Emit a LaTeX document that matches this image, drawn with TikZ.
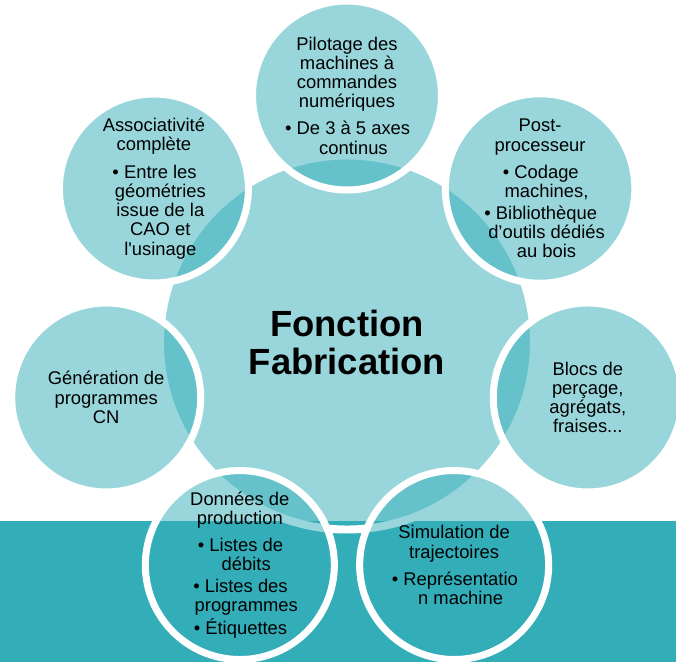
\documentclass[tikz,border=0pt]{standalone}
\usepackage{fontspec}
\setmainfont{Liberation Sans}
\definecolor{bandteal}{HTML}{33AEB9}
\newcommand{\puce}{\hspace*{0.7em}\llap{\textbullet\ }}
\newcommand{\suite}{\hspace*{0.7em}}
\tikzset{%
  % Specifications for style of the circles:
            hub/.style = {circle, draw=white, line width=6.8pt,
                            fill=bandteal, fill opacity=0.5, draw opacity=1,
                            text opacity=1, minimum size=11.22cm, inner sep=0pt,
                            font=\fontsize{31.1}{32.4}\selectfont\bfseries},
            sat/.style = {circle, draw=white, line width=6pt,
                            fill=bandteal, fill opacity=0.5, draw opacity=1,
                            text opacity=1, minimum size=5.67cm, inner sep=0pt,
                            font=\fontsize{15.7}{16.4}\selectfont}
}
\begin{document}
\begin{tikzpicture}[x=0.03cm, y=0.03cm, align=center]
                        \useasboundingbox (-347,-319.5) rectangle (329,342.5);
                        \clip (-347,-319.5) rectangle (329,342.5);
                        % bottom band
                        \fill[bandteal] (-347,-319.5) rectangle (329,-178.5);
                        \node[hub] (fab) at (0,0) {Fonction\\Fabrication};
                        \node[sat] (pil) at (90:247) {Pilotage des\\machines à\\commandes\\numériques\\[6.8pt]\puce De 3 à 5 axes\\\suite continus};
                        \node[sat] (post) at (38.571:247) {Post-\\processeur\\[6.8pt]\puce Codage\\\suite machines,\\[2pt]\puce Bibliothèque\\\suite d’outils dédiés\\\suite au bois};
                        \node[sat] (blocs) at (-12.857:247) {Blocs de\\perçage,\\agrégats,\\fraises...};
                        \node[sat] (simu) at (-64.286:247) {Simulation de\\trajectoires\\[6.8pt]\puce Représentatio\\\suite n machine};
                        \node[sat] (donn) at (-115.714:247) {Données de\\production\\[6.8pt]\puce Listes de\\\suite débits\\[2pt]\puce Listes des\\\suite programmes\\[2pt]\puce Étiquettes};
                        \node[sat] (gen) at (-167.143:247) {Génération de\\programmes\\CN};
                        \node[sat] (asso) at (141.429:247) {Associativité\\complète\\[6.8pt]\puce Entre les\\\suite géométries\\\suite issue de la\\\suite CAO et\\\suite l\textquotesingle usinage};
\end{tikzpicture}
\end{document}
